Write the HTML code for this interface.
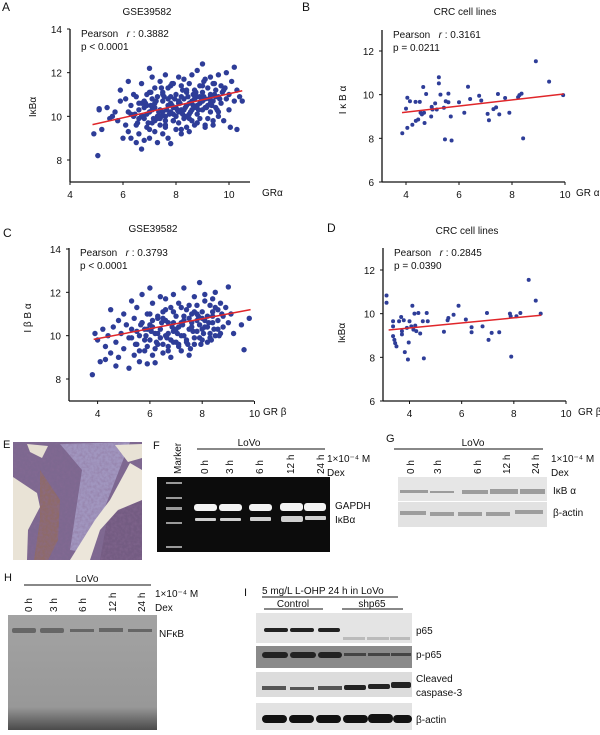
<!DOCTYPE html>
<html><head><meta charset="utf-8">
<style>
body{margin:0;background:#fff;}
svg{display:block;font-family:"Liberation Sans",sans-serif;}
text{fill:#111;}
</style></head>
<body>
<svg id="fig" width="600" height="735" viewBox="0 0 600 735">
<defs>
<filter id="tex" x="0" y="0" width="100%" height="100%">
<feTurbulence type="fractalNoise" baseFrequency="0.35" numOctaves="2" seed="3" result="n"/>
<feColorMatrix in="n" type="matrix" values="0 0 0 0 0.25  0 0 0 0 0.15  0 0 0 0 0.3  0 0 0 0.9 -0.3" result="m"/>
<feComposite in="m" in2="SourceGraphic" operator="in" result="c"/>
<feMerge><feMergeNode in="SourceGraphic"/><feMergeNode in="c"/></feMerge>
</filter>
<linearGradient id="hg" x1="0" y1="0" x2="0" y2="1"><stop offset="0" stop-color="#a3a3a3"/><stop offset="0.8" stop-color="#989898"/><stop offset="1" stop-color="#4a4a4a"/></linearGradient>
</defs>
<g id="charts"></g>

<!-- Panel E -->
<g>
<text x="3" y="448" font-size="11">E</text>
<g filter="url(#tex)">
<rect x="13" y="442" width="129" height="118" fill="#7d6790"/>
<polygon points="60,444 130,442 100,520 83,552 70,550 82,470" fill="#a196bf"/>
<polygon points="40,470 60,500 58,540 48,560 34,560 40,520" fill="#8e6a6a"/>
<polygon points="108,515 142,500 142,560 100,560" fill="#735c82"/>
</g>
<polygon points="13,477 37,493 40,507 28,530 27,560 13,560" fill="#e9e3d6"/>
<polygon points="27,444 48,446 42,458 30,452" fill="#e6dfd2"/>
<polygon points="130,463 142,470 142,500 118,510 100,530 90,560 70,560 95,520 110,500" fill="#ece6da"/>
<polygon points="115,445 142,444 142,458 128,462" fill="#e8e2d5"/>
</g>

<!-- Panel F -->
<g font-size="10">
<text x="153" y="449" font-size="11">F</text>
<text transform="translate(181,474) rotate(-90)">Marker</text>
<line x1="197" y1="449" x2="325" y2="449" stroke="#111"/>
<text x="249" y="446" text-anchor="middle">LoVo</text>
<text transform="translate(208,474) rotate(-90)">0 h</text>
<text transform="translate(233,474) rotate(-90)">3 h</text>
<text transform="translate(263,474) rotate(-90)">6 h</text>
<text transform="translate(294,474) rotate(-90)">12 h</text>
<text transform="translate(324,474) rotate(-90)">24 h</text>
<text x="327" y="462">1×10⁻⁴ M</text>
<text x="327" y="476">Dex</text>
<rect x="157" y="477" width="173" height="75" fill="#0c0c0c"/>
<g fill="#9a9a9a"><rect x="166" y="482" width="16" height="2"/><rect x="166" y="497" width="16" height="2"/><rect x="166" y="507" width="16" height="3"/><rect x="166" y="522" width="16" height="2"/><rect x="166" y="546" width="16" height="2"/></g>
<g fill="#f4f4f4"><rect x="194" y="504" width="23" height="7" rx="3"/><rect x="219" y="504" width="23" height="7" rx="3"/><rect x="249" y="504" width="23" height="7" rx="3"/><rect x="280" y="503" width="23" height="8" rx="3"/><rect x="304" y="503" width="22" height="8" rx="3"/></g>
<g fill="#cfcfcf"><rect x="195" y="518" width="21" height="3" rx="1"/><rect x="220" y="518" width="21" height="3" rx="1"/><rect x="250" y="517" width="21" height="4" rx="1"/><rect x="281" y="516" width="22" height="6" rx="2"/><rect x="305" y="516" width="21" height="4" rx="1"/></g>
<text x="335" y="509">GAPDH</text>
<text x="335" y="523">IκBα</text>
</g>

<!-- Panel G -->
<g font-size="10">
<text x="386" y="442" font-size="11">G</text>
<line x1="394" y1="449" x2="543" y2="449" stroke="#111"/>
<text x="473" y="446" text-anchor="middle">LoVo</text>
<text transform="translate(414,474) rotate(-90)">0 h</text>
<text transform="translate(441,474) rotate(-90)">3 h</text>
<text transform="translate(481,474) rotate(-90)">6 h</text>
<text transform="translate(510,474) rotate(-90)">12 h</text>
<text transform="translate(539,474) rotate(-90)">24 h</text>
<text x="551" y="462">1×10⁻⁴ M</text>
<text x="551" y="476">Dex</text>
<rect x="398" y="477" width="149" height="24" fill="#e6e6e6"/>
<rect x="398" y="502" width="149" height="25" fill="#e2e2e2"/>
<g fill="#8a8a8a" opacity="0.8"><rect x="400" y="490" width="28" height="3"/><rect x="430" y="491" width="24" height="2"/><rect x="462" y="490" width="26" height="4"/><rect x="490" y="489" width="28" height="5"/><rect x="520" y="489" width="25" height="5"/></g>
<g fill="#8c8c8c" opacity="0.8"><rect x="400" y="511" width="26" height="4"/><rect x="430" y="512" width="24" height="4"/><rect x="458" y="512" width="24" height="4"/><rect x="486" y="512" width="24" height="4"/><rect x="515" y="510" width="28" height="4"/></g>
<text x="553" y="494">IκB α</text>
<text x="553" y="516">β-actin</text>
</g>

<!-- Panel H -->
<g font-size="10">
<text x="4" y="581" font-size="11">H</text>
<line x1="24" y1="585" x2="151" y2="585" stroke="#111"/>
<text x="87" y="582" text-anchor="middle">LoVo</text>
<text transform="translate(32,612) rotate(-90)">0 h</text>
<text transform="translate(57,612) rotate(-90)">3 h</text>
<text transform="translate(86,612) rotate(-90)">6 h</text>
<text transform="translate(116,612) rotate(-90)">12 h</text>
<text transform="translate(145,612) rotate(-90)">24 h</text>
<text x="155" y="597">1×10⁻⁴ M</text>
<text x="155" y="611">Dex</text>
<rect x="8" y="615" width="149" height="115" fill="url(#hg)"/>
<g fill="#666"><rect x="12" y="628" width="24" height="5" rx="2"/><rect x="40" y="628" width="24" height="5" rx="2"/><rect x="70" y="629" width="24" height="3"/><rect x="99" y="628" width="24" height="4"/><rect x="128" y="629" width="24" height="3"/></g>
<text x="159" y="637">NFκB</text>
</g>

<!-- Panel I -->
<g font-size="10">
<text x="244" y="596" font-size="11">I</text>
<text x="262" y="594">5 mg/L L-OHP 24 h in LoVo</text>
<line x1="262" y1="597" x2="398" y2="597" stroke="#111"/>
<text x="293" y="607" text-anchor="middle">Control</text>
<line x1="264" y1="609" x2="323" y2="609" stroke="#111"/>
<text x="372" y="607" text-anchor="middle">shp65</text>
<line x1="342" y1="609" x2="403" y2="609" stroke="#111"/>
<rect x="256" y="613" width="156" height="30" fill="#e4e4e4"/>
<g fill="#222"><rect x="264" y="628" width="24" height="4" rx="2"/><rect x="290" y="628" width="24" height="4" rx="2"/><rect x="318" y="628" width="22" height="4" rx="2"/></g>
<g fill="#bbb"><rect x="343" y="637" width="22" height="3"/><rect x="367" y="637" width="22" height="3"/><rect x="390" y="637" width="20" height="3"/></g>
<rect x="256" y="646" width="156" height="22" fill="#8a8a8a"/>
<g fill="#222"><rect x="262" y="652" width="26" height="6" rx="3"/><rect x="290" y="652" width="26" height="6" rx="3"/><rect x="318" y="652" width="24" height="6" rx="3"/></g>
<g fill="#444"><rect x="344" y="653" width="22" height="3"/><rect x="368" y="653" width="22" height="3"/><rect x="391" y="653" width="20" height="3"/></g>
<rect x="256" y="672" width="156" height="25" fill="#dcdcdc"/>
<g fill="#555"><rect x="262" y="686" width="24" height="4"/><rect x="290" y="687" width="24" height="3"/><rect x="318" y="686" width="24" height="4"/></g>
<g fill="#222"><rect x="344" y="685" width="22" height="5" rx="2"/><rect x="368" y="684" width="22" height="5" rx="2"/><rect x="391" y="682" width="20" height="6" rx="2"/></g>
<rect x="256" y="703" width="156" height="27" fill="#e2e2e2"/>
<g fill="#111"><rect x="262" y="715" width="25" height="8" rx="4"/><rect x="289" y="715" width="25" height="8" rx="4"/><rect x="316" y="715" width="25" height="8" rx="4"/><rect x="343" y="715" width="25" height="8" rx="4"/><rect x="368" y="714" width="25" height="9" rx="4"/><rect x="393" y="715" width="19" height="8" rx="4"/></g>
<text x="416" y="634">p65</text>
<text x="416" y="658">p-p65</text>
<text x="416" y="682">Cleaved</text>
<text x="416" y="696">caspase-3</text>
<text x="416" y="723">β-actin</text>
</g>
</svg>

<script>
// Panel A data (GRα vs IκBα, GSE39582)
const aX = [4.9,5.05,5.1,5.2,5.1,5.4,5.5,5.6,5.7,5.8,5.9,5.9,6.0,6.1,6.1,6.2,6.2,6.3,6.3,6.4,6.4,6.5,6.5,6.5,6.6,6.6,6.7,6.7,6.7,6.8,6.8,6.8,6.9,6.9,7.0,7.0,7.0,7.1,7.1,7.1,7.2,7.2,7.2,7.3,7.3,7.3,7.4,7.4,7.4,7.5,7.5,7.5,7.6,7.6,7.6,7.7,7.7,7.7,7.8,7.8,7.8,7.9,7.9,7.9,8.0,8.0,8.0,8.1,8.1,8.1,8.2,8.2,8.2,8.3,8.3,8.3,8.4,8.4,8.4,8.5,8.5,8.5,8.6,8.6,8.6,8.7,8.7,8.7,8.8,8.8,8.8,8.9,8.9,8.9,9.0,9.0,9.0,9.1,9.1,9.1,9.2,9.2,9.2,9.3,9.3,9.3,9.4,9.4,9.4,9.5,9.5,9.6,9.6,9.6,9.7,9.7,9.8,9.8,9.9,9.9,10.0,10.0,10.1,10.2,10.2,10.3,10.3,10.4,10.5,6.9,7.2,7.5,7.8,8.0,8.3,8.6,8.9,7.6,8.4,7.0,7.4,8.2,8.8,9.0,6.6,7.1,7.9,8.5,9.3,9.5,6.3,6.8,7.7,8.1,8.7,9.1,
 6.45,6.55,6.75,6.85,6.95,7.05,7.15,7.25,7.35,7.45,7.55,7.65,7.75,7.85,7.95,8.05,8.15,8.25,8.35,8.45,8.55,8.65,8.75,8.85,8.95,9.05,9.15,9.25,9.35,9.45,9.55,9.65,9.75,6.6,6.9,7.2,7.5,7.8,8.1,8.4,8.7,9.0,9.3,9.6,7.0,7.3,7.6,7.9,8.2,8.5,8.8,9.1,9.4,6.7,7.05,7.45,7.85,8.25,8.65,9.05,9.45,6.2,9.85,10.05];
const aY = [9.2,8.2,10.3,9.4,10.35,10.4,9.9,10.0,10.2,9.8,10.7,11.2,9.0,10.8,9.6,10.2,9.3,10.5,9.0,10.0,11.0,9.6,10.9,8.8,10.3,9.2,8.5,11.5,10.6,9.9,10.4,8.9,11.0,9.5,12.2,10.2,9.0,11.8,10.8,9.7,10.4,9.3,11.3,10.0,8.8,10.9,11.6,9.6,10.3,10.7,9.2,11.1,10.0,11.9,9.5,10.5,9.0,11.3,10.2,8.75,10.9,11.5,9.8,10.4,10.0,11.0,9.4,11.8,10.6,9.7,10.3,11.4,9.2,10.8,9.9,11.7,10.5,9.5,11.1,10.1,11.5,9.3,10.7,9.8,11.9,10.4,11.2,9.6,10.9,12.1,10.1,11.4,9.9,10.6,12.4,10.3,11.1,9.5,10.8,11.7,10.5,9.9,11.3,11.0,10.2,11.8,10.7,9.6,11.5,10.4,11.2,10.9,11.9,10.0,11.4,10.6,9.8,11.2,12.0,10.8,11.0,10.3,11.6,12.25,10.7,9.4,11.2,10.9,10.7,10.1,10.6,10.2,10.6,10.4,10.3,10.3,10.9,9.8,10.0,9.4,9.9,10.9,10.5,10.7,9.9,10.3,10.1,10.6,10.6,10.9,10.1,10.7,10.8,10.2,10.8,10.4,
 10.1,9.7,10.0,10.6,9.7,10.5,9.9,10.7,10.2,10.0,10.9,10.3,10.1,10.5,10.8,10.3,10.6,10.1,10.4,10.9,10.2,10.5,11.1,10.3,10.7,10.9,10.4,10.8,10.5,11.0,10.3,10.8,11.1,10.6,10.5,9.8,11.0,11.4,10.7,11.2,10.8,11.4,10.9,10.2,11.1,9.9,9.6,9.8,9.4,9.9,9.7,9.6,9.8,10.0,11.1,11.3,11.5,11.2,11.0,11.6,11.5,11.6,11.3,9.5,11.2];
const aFit = [[4.85,9.62],[10.5,11.17]];

// Panel B data (GRα vs IκBα, CRC cell lines)
const bX = [3.86,4.0,4.05,4.05,4.15,4.24,4.36,4.37,4.46,4.52,4.55,4.6,4.65,4.68,4.7,4.76,4.95,4.97,5.0,5.1,5.16,5.24,5.24,5.3,5.43,5.47,5.5,5.6,5.6,5.69,5.72,6.0,6.2,6.34,6.42,6.76,6.84,7.08,7.13,7.3,7.4,7.47,7.52,7.74,7.9,8.23,8.28,8.36,8.42,8.9,9.4,9.93];
const bY = [8.23,9.36,9.86,8.48,9.7,8.62,9.67,8.8,8.86,9.67,9.17,9.1,10.35,9.17,8.7,10.03,9.0,9.44,9.32,9.6,9.32,10.8,10.52,10.0,9.4,7.95,9.7,9.65,10.05,9.0,7.9,9.65,9.17,10.36,9.8,9.95,9.73,9.12,8.83,9.34,9.42,10.03,9.1,9.85,9.17,9.88,9.98,10.05,8.0,11.53,10.6,9.98];
const bFit = [[3.85,9.18],[9.95,10.03]];

// Panel C data (GRβ vs IκBα, GSE39582)
const cX = [3.8,3.9,4.0,4.1,4.2,4.3,4.3,4.4,4.5,4.5,4.6,4.7,4.7,4.8,4.8,4.9,5.0,5.0,5.1,5.2,5.2,5.3,5.3,5.4,5.4,5.5,5.5,5.6,5.6,5.7,5.7,5.8,5.8,5.9,5.9,6.0,6.0,6.0,6.1,6.1,6.2,6.2,6.3,6.3,6.4,6.4,6.5,6.5,6.6,6.6,6.7,6.7,6.8,6.8,6.9,6.9,7.0,7.0,7.1,7.1,7.2,7.2,7.3,7.3,7.4,7.4,7.5,7.5,7.6,7.6,7.7,7.7,7.8,7.8,7.9,7.9,8.0,8.0,8.1,8.1,8.2,8.2,8.3,8.3,8.4,8.4,8.5,8.5,8.6,8.6,8.7,8.7,8.8,8.9,9.0,9.0,9.1,9.2,9.5,9.6,9.8,5.5,5.8,6.1,6.4,6.7,7.0,7.3,7.6,7.9,8.2,6.3,6.9,7.5,8.0,5.9,6.6,7.2,7.8,8.4,8.8,
 5.45,5.65,5.85,6.05,6.25,6.45,6.65,6.85,7.05,7.25,7.45,7.65,7.85,8.05,8.25,8.45,8.65,5.6,5.9,6.2,6.5,6.8,7.1,7.4,7.7,8.0,8.3,8.6,6.0,6.3,6.6,6.9,7.2,7.5,7.8,8.1,8.4,5.7,6.1,6.5,6.9,7.3,7.7,8.1,8.5,5.3,6.7,7.1,7.55,7.95,8.35,8.75];
const cY = [8.2,10.1,9.8,8.8,10.3,9.5,8.9,10.0,11.2,9.2,10.4,8.6,9.7,10.7,9.0,10.1,11.0,9.4,10.5,8.5,9.9,11.6,10.3,9.1,10.8,9.6,11.3,8.8,10.0,10.6,11.9,9.3,10.3,8.7,11.0,9.8,12.2,10.5,9.1,11.5,10.1,8.75,10.8,9.6,11.8,10.3,9.2,11.1,10.0,11.7,9.5,10.6,11.3,9.0,10.2,11.9,9.7,10.9,10.4,11.5,9.3,10.0,12.2,10.7,9.8,11.2,10.3,9.1,11.0,10.6,11.8,9.6,10.2,11.4,9.9,12.45,10.8,11.1,10.4,11.9,9.7,10.9,11.4,10.1,11.7,10.6,12.0,10.0,11.2,10.7,11.5,10.1,10.9,11.3,12.25,10.6,11.0,10.1,10.5,9.35,10.8,10.2,9.8,10.4,9.9,10.1,10.3,10.0,10.4,10.5,10.4,10.1,9.7,10.8,10.3,10.3,10.7,10.6,10.7,10.9,10.4,
 9.6,10.5,10.0,10.2,9.7,10.6,9.9,10.4,10.1,10.5,9.6,10.2,10.9,10.1,10.6,10.3,10.0,9.3,9.5,9.4,9.6,9.8,9.5,9.7,9.9,9.8,9.9,10.3,11.0,10.9,11.2,11.1,11.3,11.4,11.0,11.6,11.1,10.6,10.7,10.8,10.6,10.9,11.1,10.7,11.3,9.9,9.3,9.6,9.4,9.6,9.8,11.0];
const cFit = [[3.85,9.83],[9.85,11.2]];

// Panel D data (GRβ vs IκBα, CRC cell lines)
const dX = [3.12,3.12,3.37,3.37,3.37,3.42,3.45,3.5,3.6,3.68,3.71,3.71,3.78,3.82,3.9,3.94,3.97,4.0,4.07,4.11,4.15,4.19,4.22,4.26,4.34,4.41,4.51,4.55,4.66,4.7,5.32,5.46,5.49,5.69,5.88,6.16,6.38,6.38,6.8,6.97,7.03,7.15,7.44,7.85,7.88,7.9,8.1,8.25,8.57,8.84,9.03];
const dY = [10.83,10.5,9.65,9.42,8.97,8.8,8.65,8.5,9.65,9.85,9.2,9.05,9.7,8.24,9.35,7.9,8.68,9.65,9.42,10.36,9.27,10.0,9.45,9.2,10.03,9.09,9.65,7.95,10.03,9.65,9.17,9.7,9.8,9.95,10.36,9.73,9.38,9.15,9.42,10.03,8.8,9.12,9.15,10.0,9.88,8.03,9.88,10.03,11.55,10.6,10.0];
const dFit = [[3.2,9.25],[9.05,9.93]];

// tick labels
const xTicksA = [4,6,8,10];
const yTicksA = [8,10,12,14];
const xTicksB = [4,6,8,10];
const yTicksB = [6,8,10,12];
const xTicksC = [4,6,8,10];
const yTicksC = [8,10,12,14];
const xTicksD = [4,6,8,10];
const yTicksD = [6,8,10,12];

const NS = 'http://www.w3.org/2000/svg';
const root = document.getElementById('charts');
function mk(tag, attrs, parent){ const e=document.createElementNS(NS,tag); for(const k in attrs) e.setAttribute(k,attrs[k]); parent.appendChild(e); return e; }

function panel(p){
  const g = mk('g',{},root);
  
  
  const sx = v => p.x0 + (v - p.xv0) * (p.x1 - p.x0) / (p.xv1 - p.xv0);
  const sy = v => p.y0 - (v - p.yv0) * (p.y0 - p.y1) / (p.yv1 - p.yv0);
  const L = mk('text',{x:p.lx,y:p.ly,'font-size':12},g); L.textContent = p.letter;
  
  
  const T = mk('text',{x:p.tx,y:p.ty,'font-size':10,'text-anchor':'middle'},g); T.textContent = p.title;
  
  
  const ya = mk('line',{x1:p.ax,y1:p.atop,x2:p.ax,y2:p.ay,stroke:'#111','stroke-width':1.3},g);
  
  
  const xa = mk('line',{x1:p.ax,y1:p.ay,x2:p.aright,y2:p.ay,stroke:'#111','stroke-width':1.3},g);
  
  
  p.xt.forEach(v=>{
    const X=sx(v);
    mk('line',{x1:X,y1:p.ay,x2:X,y2:p.ay+3,stroke:'#111'},g);
    const t=mk('text',{x:X,y:p.ay+16,'font-size':10,'text-anchor':'middle'},g); t.textContent=v;
    
    
  });
  p.yt.forEach(v=>{
    const Y=sy(v);
    mk('line',{x1:p.ax-3,y1:Y,x2:p.ax,y2:Y,stroke:'#111'},g);
    const t=mk('text',{x:p.ax-8,y:Y+4,'font-size':10,'text-anchor':'end'},g); t.textContent=v;
    
    
  });
  const xl=mk('text',{x:p.xlx,y:p.ay+14,'font-size':10},g); xl.textContent=p.xlabel;
  
  
  const yl=mk('text',{transform:`translate(${p.ylx},${p.yly}) rotate(-90)`,'font-size':10,'text-anchor':'middle'},g); yl.textContent=p.ylabel;
  
  
  const s1=mk('text',{x:p.ax+11,y:p.atop+8,'font-size':10},g);
  s1.innerHTML = 'Pearson &#160;&#160;<tspan font-style="italic">r</tspan> : ' + p.r;
  
  
  const s2=mk('text',{x:p.ax+11,y:p.atop+21,'font-size':10},g); s2.textContent=p.pv;
  
  
  p.xs.forEach((v,i)=>{
    const c=mk('circle',{cx:sx(v),cy:sy(p.ys[i]),r:p.rad,fill:'#2e3d98'},g);
    
    
  });
  const f=mk('line',{x1:sx(p.fit[0][0]),y1:sy(p.fit[0][1]),x2:sx(p.fit[1][0]),y2:sy(p.fit[1][1]),stroke:'#e0262a','stroke-width':1.5},g);
  
  
}

panel({name:'panel-a',letter:'A',lx:2,ly:11,title:'GSE39582',tx:147,ty:15,
  x0:70,x1:229,xv0:4,xv1:10,y0:160,y1:29,yv0:8,yv1:14,ax:70,ay:182,atop:29,aright:250,
  xt:xTicksA,yt:yTicksA,xlabel:'GRα',xlx:262,ylabel:'IκBα',ylx:36,yly:107,
  r:'0.3882',pv:'p <  0.0001',xs:aX,ys:aY,fit:aFit,rad:2.7});
panel({name:'panel-b',letter:'B',lx:302,ly:11,title:'CRC cell lines',tx:465,ty:15,
  x0:406,x1:565,xv0:4,xv1:10,y0:182,y1:51,yv0:6,yv1:12,ax:382,ay:182,atop:30,aright:565,
  xt:xTicksB,yt:yTicksB,xlabel:'GR α',xlx:576,ylabel:'I κ B α',ylx:346,yly:100,
  r:'0.3161',pv:'p =  0.0211',xs:bX,ys:bY,fit:bFit,rad:2});
panel({name:'panel-c',letter:'C',lx:3,ly:237,title:'GSE39582',tx:153,ty:232,
  x0:97.6,x1:254.5,xv0:4,xv1:10,y0:379,y1:249,yv0:8,yv1:14,ax:69,ay:401,atop:248,aright:254,
  xt:xTicksC,yt:yTicksC,xlabel:'GR β',xlx:263,ylabel:'I β B α',ylx:31,yly:318,
  r:'0.3793',pv:'p < 0.0001',xs:cX,ys:cY,fit:cFit,rad:2.7});
panel({name:'panel-d',letter:'D',lx:327,ly:232,title:'CRC cell lines',tx:467,ty:234,
  x0:409.5,x1:566,xv0:4,xv1:10,y0:401,y1:270,yv0:6,yv1:12,ax:383,ay:401,atop:248,aright:566,
  xt:xTicksD,yt:yTicksD,xlabel:'GR β',xlx:578,ylabel:'IκBα',ylx:345,yly:333,
  r:'0.2845',pv:'p =  0.0390',xs:dX,ys:dY,fit:dFit,rad:2});
</script>
</body></html>
